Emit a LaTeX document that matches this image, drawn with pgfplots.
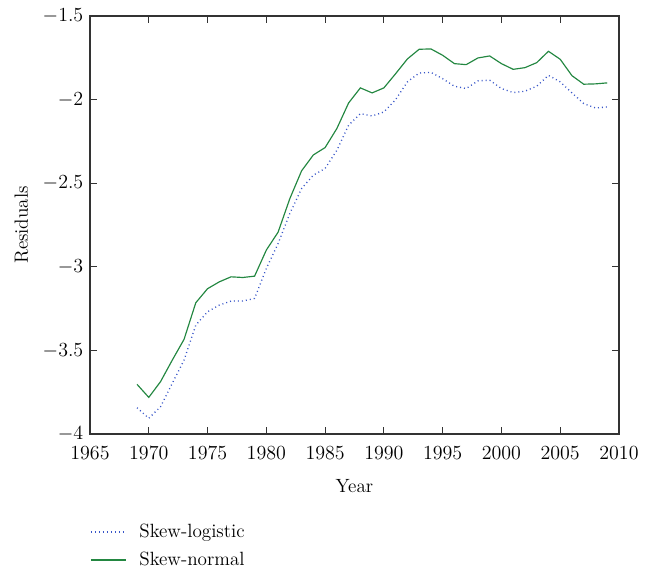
\documentclass[border=0pt]{standalone}
\usepackage{pgfplots}
\pgfplotsset{compat=1.18}
\definecolor{sngreen}{RGB}{35,135,65}
\definecolor{slblue}{RGB}{55,85,200}
\begin{document}
\fontsize{11.5}{13.8}\selectfont
\begin{tikzpicture}
\useasboundingbox (0,0) rectangle (390.6pt,341.4pt);
\begin{axis}[
  at={(54pt,81pt)}, anchor=south west,
  scale only axis, width=317.4pt, height=250.8pt,
  xmin=1965, xmax=2010, ymin=-4, ymax=-1.5,
  xtick={1965,1970,...,2010}, ytick={-4,-3.5,-3,-2.5,-2,-1.5},
  yticklabels={$-4$,$-3.5$,$-3$,$-2.5$,$-2$,$-1.5$},
  /pgf/number format/1000 sep={},
  tick align=inside, major tick length=4pt,
  axis line style={draw=black!80, line width=0.7pt},
  tick style={draw=black!80, line width=0.6pt},
  ticklabel style={font=\fontsize{11.5}{13.8}\selectfont},
  xticklabel style={yshift=-3.5pt},
  label style={font=\fontsize{11.5}{13.8}\selectfont},
  xlabel={Year}, ylabel={Residuals},
  xlabel style={at={(axis description cs:0.5,-0.124)}, anchor=center},
  ylabel style={at={(axis description cs:-0.1295,0.5)}, anchor=center},
  legend style={at={(axis description cs:0,-0.208)}, anchor=north west, draw=none, fill=none,
    inner sep=0pt, row sep=3.8pt, font=\fontsize{11.5}{13.8}\selectfont,
    nodes={inner sep=1pt, text height=8.5pt, text depth=2.5pt},
    /tikz/every odd column/.append style={column sep=6.6pt}},
  legend cell align=left,
  legend image code/.code={\draw[#1] (0pt,0pt) -- (21pt,0pt);},
  legend columns=1,
]
\addplot[color=slblue, line width=0.8pt, dash pattern=on 0.6pt off 1.8pt, forget plot] coordinates {
(1969,-3.843) (1970,-3.906) (1971,-3.837) (1972,-3.697) (1973,-3.558) (1974,-3.349)
(1975,-3.269) (1976,-3.229) (1977,-3.205) (1978,-3.205) (1979,-3.189) (1980,-3.010)
(1981,-2.861) (1982,-2.681) (1983,-2.532) (1984,-2.452) (1985,-2.412) (1986,-2.303)
(1987,-2.153) (1988,-2.084) (1989,-2.098) (1990,-2.074) (1991,-2.000) (1992,-1.894)
(1993,-1.841) (1994,-1.837) (1995,-1.875) (1996,-1.920) (1997,-1.934) (1998,-1.888)
(1999,-1.884) (2000,-1.934) (2001,-1.958) (2002,-1.950) (2003,-1.920) (2004,-1.855)
(2005,-1.894) (2006,-1.960) (2007,-2.024) (2008,-2.050) (2009,-2.044)
};
\addplot[color=sngreen, line width=0.7pt, forget plot] coordinates {
(1969,-3.703) (1970,-3.781) (1971,-3.687) (1972,-3.558) (1973,-3.434) (1974,-3.215)
(1975,-3.131) (1976,-3.090) (1977,-3.060) (1978,-3.064) (1979,-3.056) (1980,-2.900)
(1981,-2.793) (1982,-2.592) (1983,-2.426) (1984,-2.331) (1985,-2.287) (1986,-2.173)
(1987,-2.020) (1988,-1.930) (1989,-1.960) (1990,-1.930) (1991,-1.845) (1992,-1.757)
(1993,-1.699) (1994,-1.697) (1995,-1.735) (1996,-1.785) (1997,-1.791) (1998,-1.751)
(1999,-1.739) (2000,-1.785) (2001,-1.819) (2002,-1.809) (2003,-1.779) (2004,-1.711)
(2005,-1.759) (2006,-1.857) (2007,-1.908) (2008,-1.906) (2009,-1.900)
};
\addlegendimage{draw=slblue, line width=0.8pt, dash pattern=on 0.6pt off 1.8pt}
\addlegendentry{Skew-logistic}
\addlegendimage{draw=sngreen, line width=0.8pt}
\addlegendentry{Skew-normal}
\end{axis}
\end{tikzpicture}
\end{document}
